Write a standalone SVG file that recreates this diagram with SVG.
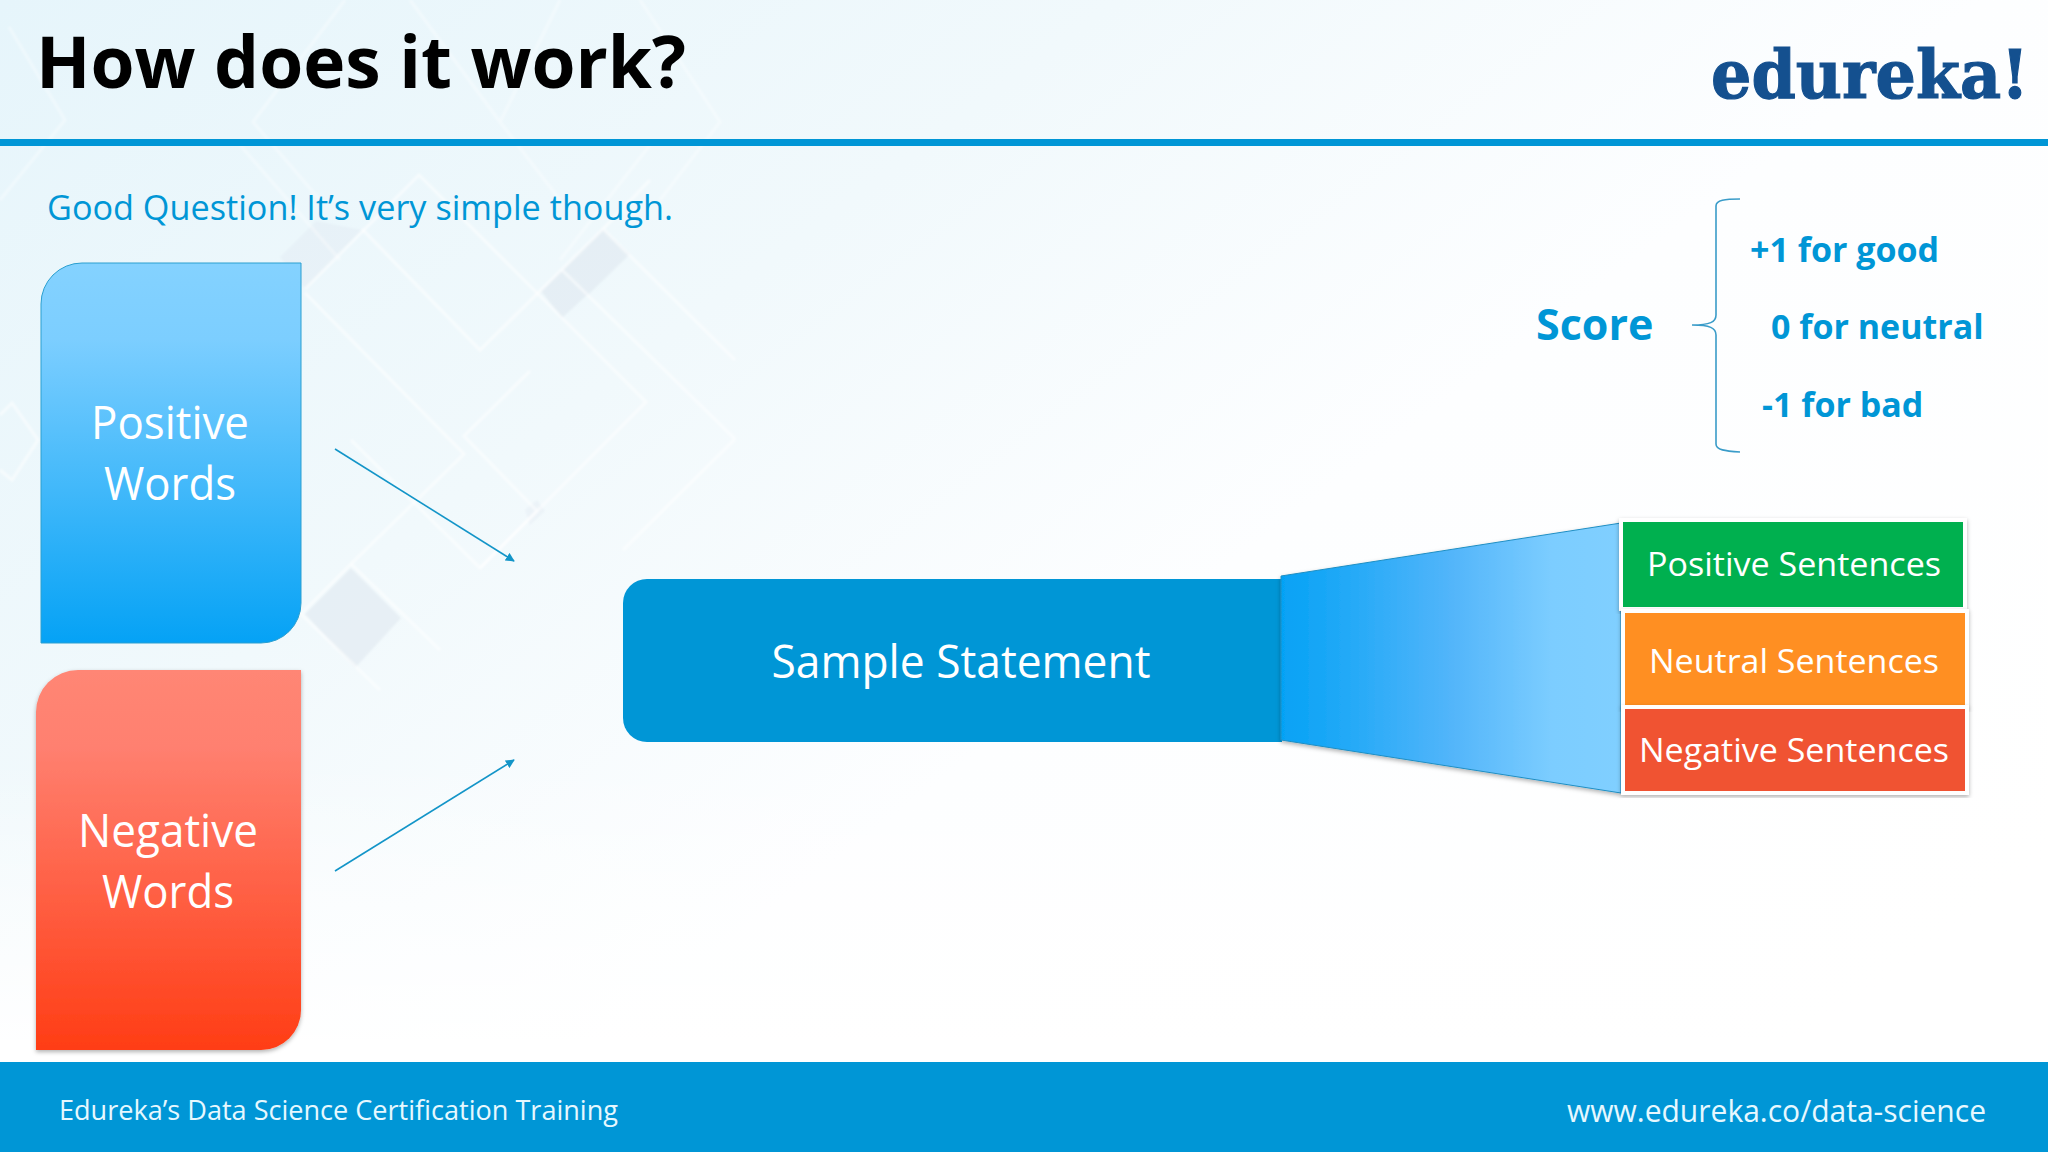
<svg xmlns="http://www.w3.org/2000/svg" width="2048" height="1152" viewBox="0 0 2048 1152">
<defs>
<linearGradient id="bg" x1="0" y1="0" x2="1" y2="0.75"><stop offset="0" stop-color="#e6f5fb"/><stop offset="0.35" stop-color="#f1f9fc"/><stop offset="0.62" stop-color="#fdfeff"/><stop offset="1" stop-color="#ffffff"/></linearGradient>
<linearGradient id="fadeB" x1="0" y1="0" x2="0" y2="1"><stop offset="0" stop-color="#fff" stop-opacity="0"/><stop offset="1" stop-color="#fff" stop-opacity="1"/></linearGradient>
<linearGradient id="blueG" x1="0" y1="0" x2="0" y2="1"><stop offset="0" stop-color="#84d2ff"/><stop offset="0.2" stop-color="#7cceff"/><stop offset="1" stop-color="#05a2f5"/></linearGradient>
<linearGradient id="redG" x1="0" y1="0" x2="0" y2="1"><stop offset="0" stop-color="#ff8674"/><stop offset="0.2" stop-color="#ff8070"/><stop offset="1" stop-color="#ff3d15"/></linearGradient>
<linearGradient id="funG" x1="0" y1="0" x2="1" y2="0"><stop offset="0" stop-color="#05a2f5"/><stop offset="0.5" stop-color="#52b5fa"/><stop offset="0.8" stop-color="#7ccdff"/><stop offset="1" stop-color="#80cfff"/></linearGradient>
<filter id="sh" x="-5%" y="-5%" width="110%" height="110%"><feDropShadow dx="0" dy="2" stdDeviation="2" flood-color="#000" flood-opacity="0.3"/></filter>
<filter id="soft" x="-5%" y="-5%" width="110%" height="110%"><feGaussianBlur stdDeviation="1"/></filter>
<marker id="ah" viewBox="0 0 10 10" refX="9" refY="5" markerWidth="9" markerHeight="9" markerUnits="userSpaceOnUse" orient="auto"><path d="M0 0L10 5L0 10Z" fill="#1395c8"/></marker>
</defs>
<style>
text{font-family:"Open Sans","Noto Sans",sans-serif}
.w{fill:#fff;text-anchor:middle}
.big{font-size:46px}
.s{font-size:33px}
.b{fill:#0096d6;font-weight:700;font-size:34px}
.d{fill:none;stroke:#fff;stroke-width:3;stroke-opacity:.55}
.g{fill:#d9e3ec;fill-opacity:.45}
.box{stroke:#fff;stroke-width:4;filter:url(#sh)}
.conn{stroke:#1395c8;stroke-width:1.6;fill:none}
</style>
<g id="background">
<rect width="2048" height="1152" fill="url(#bg)"/>
<g filter="url(#soft)">
<path class="g" d="M603 229L630 254L587 296L562 270Z"/>
<path class="g" d="M562 270L587 295L562 318L541 291Z"/>
<path class="g" d="M351 568L401 618L355 668L305 614Z"/>
<path class="g" d="M305 289L362 230L316 221L280 257Z" opacity=".6"/>
<path class="g" d="M525 510L537 500L545 511L530 525Z" opacity=".6"/>
<path class="d" d="M305 289L419 175L646 402L480 568"/>
<path class="d" d="M362 229L480 350L603 229L735 360"/>
<path class="d" d="M305 293L464 454L351 564L301 614L380 690"/>
<path class="d" d="M530 371L464 436L537 511L480 568L351 440"/>
<path class="d" d="M735 439L623 550M562 270L735 439"/>
<path class="d" d="M351 564L440 650M603 229L650 180"/>
<path class="d" d="M0 415L12 403L38 440L12 480L0 470"/>
<path class="d" d="M345 0L253 122L320 200M500 122L560 0M500 122L560 200M9 27L65 120L0 200M640 0L720 122L660 200M410 0L500 122" style="stroke-opacity:.35"/>
<path class="d" d="M240 145L340 260M650 145L560 260" style="stroke-opacity:.35"/>
</g>
<rect y="760" width="2048" height="300" fill="url(#fadeB)"/>
<rect y="1040" width="2048" height="30" fill="#fff"/>
</g>
<g id="header">
<text x="36" y="88" font-size="72" font-weight="700" fill="#000" textLength="650" lengthAdjust="spacingAndGlyphs">How does it work?</text>
<text x="1711" y="98" style="font-family:'DejaVu Serif',serif" font-size="68" font-weight="700" fill="#14508f" stroke="#14508f" stroke-width="1.2" textLength="318" lengthAdjust="spacingAndGlyphs">edureka!</text>
<rect y="139" width="2048" height="7" fill="#0096d6"/>
</g>
<text id="subtitle" x="47" y="220" font-size="35" fill="#0096d6" textLength="626" lengthAdjust="spacingAndGlyphs">Good Question! It’s very simple though.</text>
<g id="positive-words">
<path d="M82 263H301V603A40 40 0 0 1 261 643H41V304A41 41 0 0 1 82 263Z" fill="url(#blueG)" stroke="#2a9fd0" stroke-width="1"/>
<text class="w big" x="170" y="439" textLength="158" lengthAdjust="spacingAndGlyphs">Positive</text>
<text class="w big" x="170" y="500" textLength="132" lengthAdjust="spacingAndGlyphs">Words</text>
</g>
<g id="negative-words">
<path d="M78 670H301V1010A40 40 0 0 1 261 1050H36V712A42 42 0 0 1 78 670Z" fill="url(#redG)" filter="url(#sh)"/>
<text class="w big" x="168" y="847" textLength="180" lengthAdjust="spacingAndGlyphs">Negative</text>
<text class="w big" x="168" y="908" textLength="132" lengthAdjust="spacingAndGlyphs">Words</text>
</g>
<g id="connectors">
<line class="conn" x1="335" y1="449" x2="514" y2="561" marker-end="url(#ah)"/>
<line class="conn" x1="335" y1="871" x2="514" y2="760" marker-end="url(#ah)"/>
<path class="conn" d="M1740 199C1725 199 1716 200 1716 206V315C1716 322 1710 325 1692 325C1710 325 1716 328 1716 335V444C1716 450 1725 451 1740 452" style="stroke:#3a9cc9"/>
</g>
<g id="sample-statement">
<path d="M647 579H1282V742H647A24 24 0 0 1 623 718V603A24 24 0 0 1 647 579Z" fill="#0096d6"/>
<text class="w big" x="961" y="678" textLength="379" lengthAdjust="spacingAndGlyphs">Sample Statement</text>
</g>
<g id="funnel">
<path d="M1281 576L1621 523V793L1281 740Z" fill="url(#funG)" stroke="#1f8fc4" stroke-width="1" filter="url(#sh)"/>
</g>
<g id="positive-sentences">
<rect class="box" x="1621" y="520" width="344" height="89" fill="#00b050"/>
<text class="w s" x="1794" y="576" textLength="294" lengthAdjust="spacingAndGlyphs">Positive Sentences</text>
</g>
<g id="neutral-sentences">
<rect class="box" x="1623" y="611" width="344" height="96" fill="#ff8f24"/>
<text class="w s" x="1794" y="673" textLength="290" lengthAdjust="spacingAndGlyphs">Neutral Sentences</text>
</g>
<g id="negative-sentences">
<rect class="box" x="1623" y="707" width="344" height="86" fill="#f05330"/>
<text class="w s" x="1794" y="762" textLength="310" lengthAdjust="spacingAndGlyphs">Negative Sentences</text>
</g>
<g id="score">
<text x="1536" y="340" font-size="43" font-weight="700" fill="#0096d6">Score</text>
<text class="b" x="1750" y="262">+1 for good</text>
<text class="b" x="1771" y="339">0 for neutral</text>
<text class="b" x="1762" y="417">-1 for bad</text>
</g>
<g id="footer">
<rect y="1062" width="2048" height="90" fill="#0096d6"/>
<text x="59" y="1120" font-size="28" fill="#e6f8ff" textLength="559" lengthAdjust="spacingAndGlyphs">Edureka’s Data Science Certification Training</text>
<text x="1567" y="1122" font-size="31" fill="#e6f8ff" textLength="419" lengthAdjust="spacingAndGlyphs">www.edureka.co/data-science</text>
</g>
</svg>
